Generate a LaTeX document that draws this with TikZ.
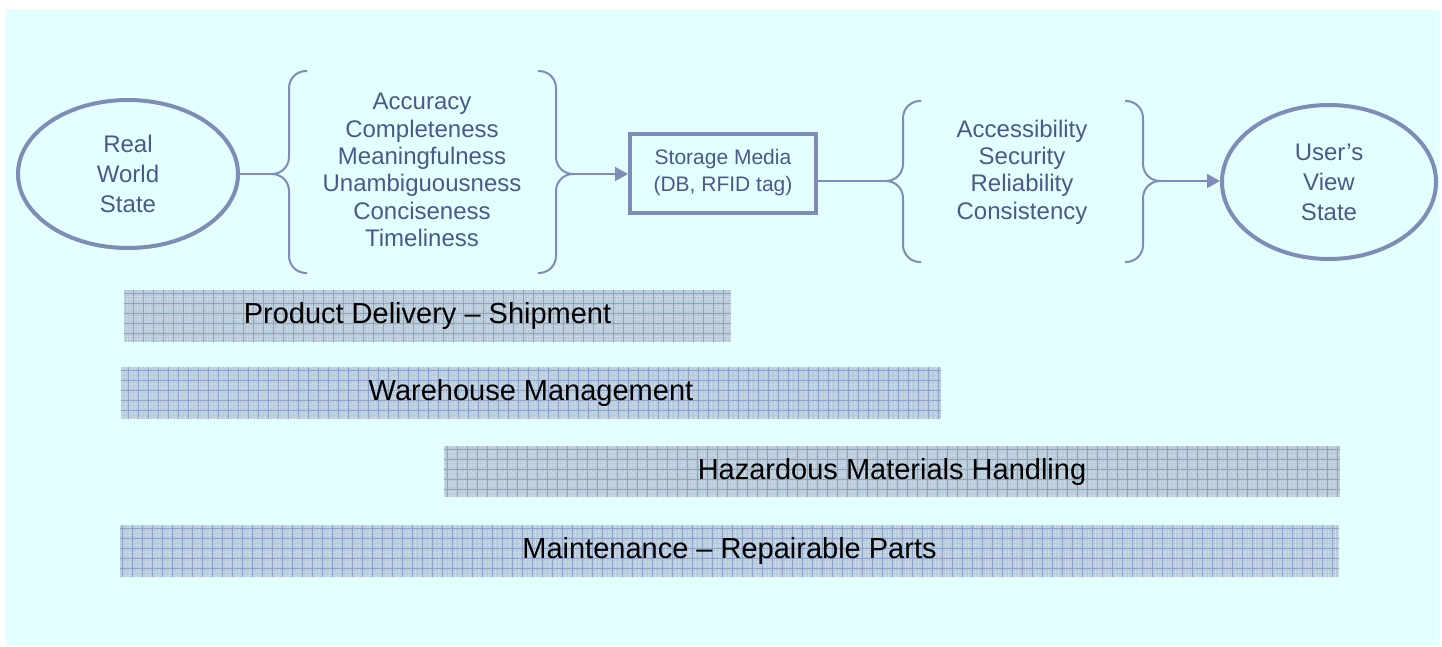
\documentclass[tikz,border=0pt]{standalone}
\usepackage{xcolor}
\usepackage{fontspec}
\setmainfont{Liberation Sans}
\usepackage{tikz}
\usetikzlibrary{shapes.geometric,arrows.meta}
\definecolor{bgcyan}{HTML}{E3FFFF}
\definecolor{linecol}{HTML}{7F8DB6}
\definecolor{txtcol}{HTML}{4A5A88}
\definecolor{barfill}{HTML}{B9CCDC}
\definecolor{bargrid}{HTML}{8EA3C7}
\tikzset{>={Triangle[length=13pt,width=14pt]}}
% half braces meet in a point: vertical x, top y, bottom y, tip y
\newcommand{\leftcurl}[4]{%
  \draw[brace] (#1+18,#2) -- (#1,#2) -- (#1,#4) -- (#1-17,#4);
  \draw[brace] (#1+18,#3) -- (#1,#3) -- (#1,#4) -- (#1-17,#4);}
\newcommand{\rightcurl}[4]{%
  \draw[brace] (#1-18,#2) -- (#1,#2) -- (#1,#4) -- (#1+17,#4);
  \draw[brace] (#1-18,#3) -- (#1,#3) -- (#1,#4) -- (#1+17,#4);}

\begin{document}
\begin{tikzpicture}[x=1pt,y=-1pt,
  state/.style={ellipse,draw=linecol,line width=4pt,inner sep=0pt,
    text=txtcol,align=center,font=\fontsize{24}{30}\selectfont},
  media/.style={rectangle,draw=linecol,line width=4pt,inner sep=0pt,
    text=txtcol,align=center,font=\fontsize{21}{27}\selectfont},
  quality/.style={text=txtcol,align=center,inner sep=0pt,
    font=\fontsize{24}{27.3}\selectfont},
  brace/.style={linecol,line width=2pt,rounded corners=17pt},
  link/.style={linecol,line width=2pt},
  bar/.style={rectangle,fill=barfill,inner sep=0pt,minimum height=52pt,
    font=\fontsize{29}{34}\selectfont,
    path picture={\draw[white,opacity=0.35,line width=0.6pt,dash pattern=on 1pt off 1.5pt,step=3.33pt]
        (path picture bounding box.south west) grid (path picture bounding box.north east);
      \draw[bargrid,line width=0.8pt,step=10pt]
        (path picture bounding box.south west) grid (path picture bounding box.north east);}}]
\useasboundingbox (0,0) rectangle (1442,646);
\fill[bgcyan] (6,9) rectangle (1439,646);

\node[state,minimum width=220pt,minimum height=148pt] (real) at (128,174) {Real\\World\\State};
\node[quality] (acc) at (422,170) {Accuracy\\Completeness\\Meaningfulness\\Unambiguousness\\Conciseness\\Timeliness};
\node[media,minimum width=186pt,minimum height=79pt] (store) at (723,173) {Storage Media\\(DB, RFID tag)};
\node[quality] (sec) at (1022,172) {Accessibility\\Security\\Reliability\\Consistency};
\node[state,minimum width=214pt,minimum height=154pt] (user) at (1329,182) {User's\\View\\State};

\leftcurl{289}{71}{273}{174}
\rightcurl{556}{71}{273}{174}
\leftcurl{903}{101}{262}{181}
\rightcurl{1143}{101}{262}{181}
\coordinate (inA) at (272,174);
\coordinate (outA) at (573,174);
\coordinate (inB) at (886,181);
\coordinate (outB) at (1160,181);

\draw[link] (real.east |- inA) -- (inA);
\draw[link,->] (outA) -- (outA -| store.west);
\draw[link] (store.east |- inB) -- (inB);
\draw[link,->] (outB) -- (outB -| user.west);

\node[bar,minimum width=607pt] (ship) at (427.5,315.5) {Product Delivery -- Shipment};
\node[bar,minimum width=820pt] (ware) at (531,393) {Warehouse Management};
\node[bar,minimum width=896pt,minimum height=51pt] (hazard) at (892,471.5) {Hazardous Materials Handling};
\node[bar,minimum width=1219pt] (maint) at (729.5,551) {Maintenance -- Repairable Parts};
\end{tikzpicture}
\end{document}
